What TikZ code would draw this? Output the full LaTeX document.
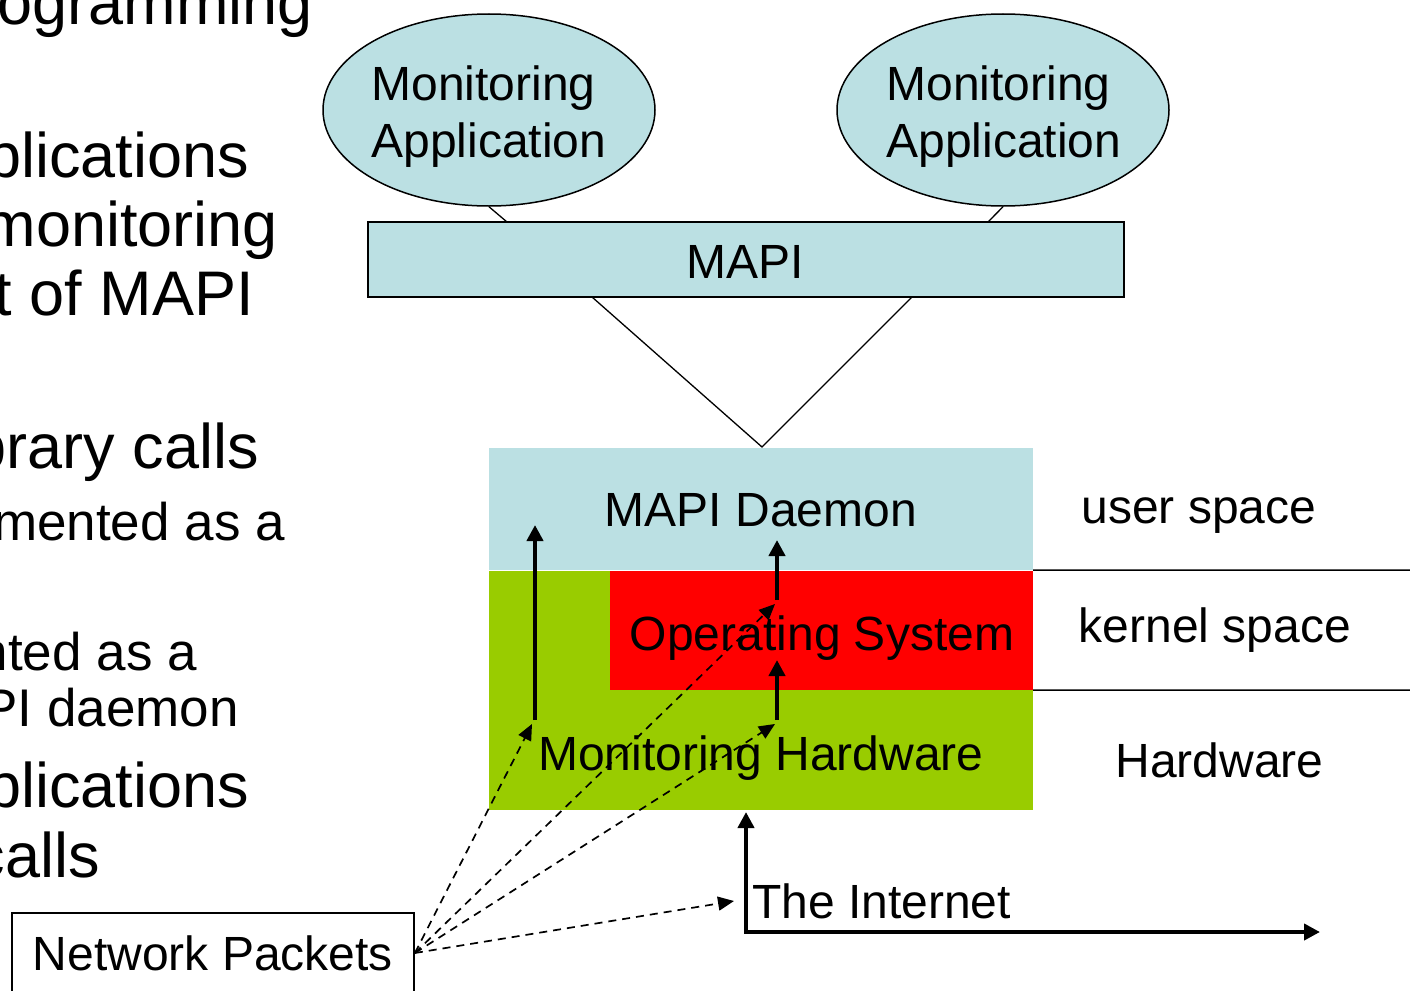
\documentclass[tikz,border=0pt]{standalone}
\usepackage{fontspec}
\setmainfont{Liberation Sans}
\usetikzlibrary{arrows.meta,shapes.geometric}
\definecolor{lblue}{HTML}{BBE0E3}
\definecolor{hwgreen}{HTML}{99CC00}
\definecolor{osred}{HTML}{FF0000}
\begin{document}
\begin{tikzpicture}[x=1pt,y=-1pt,
  diag/.style={font=\fontsize{48}{57}\selectfont, inner sep=0pt},
  bigtxt/.style={font=\fontsize{63}{70}\selectfont, inner sep=0pt, anchor=base east},
  smalltxt/.style={font=\fontsize{53}{58}\selectfont, inner sep=0pt, anchor=base east},
  app/.style={ellipse, draw, line width=1.5pt, fill=lblue, minimum width=332pt, minimum height=192pt, inner sep=0pt},
  thinline/.style={line width=1.3pt},
  solidarrow/.style={line width=4pt, -{Triangle[width=16pt,length=16pt]}},
  dasharrow/.style={line width=1.7pt, dash pattern=on 8pt off 6pt, -{Triangle[width=14pt,length=16pt]}},
]
\useasboundingbox (0,0) rectangle (1410,990);

% left slide text (clipped by the frame, as in the slide)
\node[bigtxt] (l1) at (313,25) {ogramming};
\node[bigtxt] (l2) at (249,177) {plications};
\node[bigtxt] (l3) at (278,246) {monitoring};
\node[bigtxt] (l4) at (254,315) {t of MAPI};
\node[bigtxt] (l5) at (259,468) {brary calls};
\node[smalltxt] (l6) at (285,540) {mented as a};
\node[smalltxt] (l7) at (197,670) {nted as a};
\node[smalltxt] (l8) at (239,726) {PI daemon};
\node[bigtxt] (l9) at (249,807) {plications};
\node[bigtxt] (l10) at (100,877) {calls};

% MAPI box
\node[draw, line width=1.5pt, fill=lblue, minimum width=756pt, minimum height=75pt, inner sep=0pt] (mapi) at (746,259.5) {};
\node[diag, anchor=base] (mapitxt) at (745,278) {MAPI};

% applications
\coordinate (m1) at (507,222);
\coordinate (m2) at (988,222);
\node[app] (app1) at (489,110) {};
\node[app] (app2) at (1003,110) {};
\draw[thinline] (app1.south) -- (m1);
\draw[thinline] (app2.south) -- (m2);
\node[diag, align=left] (app1txt) at (489,117) {Monitoring\\Application};
\node[diag, align=left] (app2txt) at (1004,117) {Monitoring\\Application};

% V connector
\coordinate (v1) at (592,297);
\coordinate (v2) at (912,297);
\coordinate (apex) at (762,447);
\draw[thinline] (v1) -- (apex) -- (v2);

% layers
\node[fill=lblue, minimum width=544pt, minimum height=122pt, inner sep=0pt] (daemon) at (761,509) {};
\node[fill=hwgreen, minimum width=544pt, minimum height=240pt, inner sep=0pt] (hw) at (761,690) {};
\node[fill=osred, minimum width=423pt, minimum height=120pt, inner sep=0pt] (os) at (821.5,630) {};
\draw[white, line width=1pt] (daemon.south west) -- (daemon.south east);
\node[diag, anchor=base] (daemontxt) at (761,526) {MAPI Daemon};
\node[diag, anchor=base] (ostxt) at (822,650) {Operating System};
\node[diag, anchor=base] (hwtxt) at (761,770) {Monitoring Hardware};

% right labels
\coordinate (r1) at (1410,570);
\coordinate (r2) at (1410,690);
\draw[line width=1.5pt] (daemon.south east) -- (r1);
\draw[line width=1.5pt] (os.south east) -- (r2);
\node[diag, anchor=base] (us) at (1199,523) {user space};
\node[diag, anchor=base] (ks) at (1215,642) {kernel space};
\node[diag, anchor=base] (hwl) at (1219.5,777) {Hardware};

% solid arrows
\coordinate (a1s) at (535,720);
\coordinate (a1e) at (535,525);
\coordinate (a2s) at (777,600);
\coordinate (a2e) at (777,540);
\coordinate (a3s) at (777,720);
\coordinate (a3e) at (777,660);
\draw[solidarrow] (a1s) -- (a1e);
\draw[solidarrow] (a2s) -- (a2e);
\draw[solidarrow] (a3s) -- (a3e);

% network packets
\node[draw, line width=1.8pt, diag, minimum width=402pt, minimum height=80pt] (np) at (213,953) {Network Packets};
\coordinate (d1) at (532,724);
\coordinate (d2) at (775,604);
\coordinate (d3) at (775,724);
\coordinate (d4) at (734,901);
\draw[dasharrow] (np.east) -- (d1);
\draw[dasharrow] (np.east) -- (d2);
\draw[dasharrow] (np.east) -- (d3);
\draw[dasharrow] (np.east) -- (d4);

% internet
\coordinate (inetup) at (746,812);
\coordinate (inet) at (746,932);
\coordinate (inetr) at (1320,932);
\draw[line width=4pt, {Triangle[width=16pt,length=16pt]}-{Triangle[width=16pt,length=16pt]}] (inetup) -- (inet) -- (inetr);
\node[diag, anchor=base west] (inettxt) at (752,918) {The Internet};
\end{tikzpicture}
\end{document}
